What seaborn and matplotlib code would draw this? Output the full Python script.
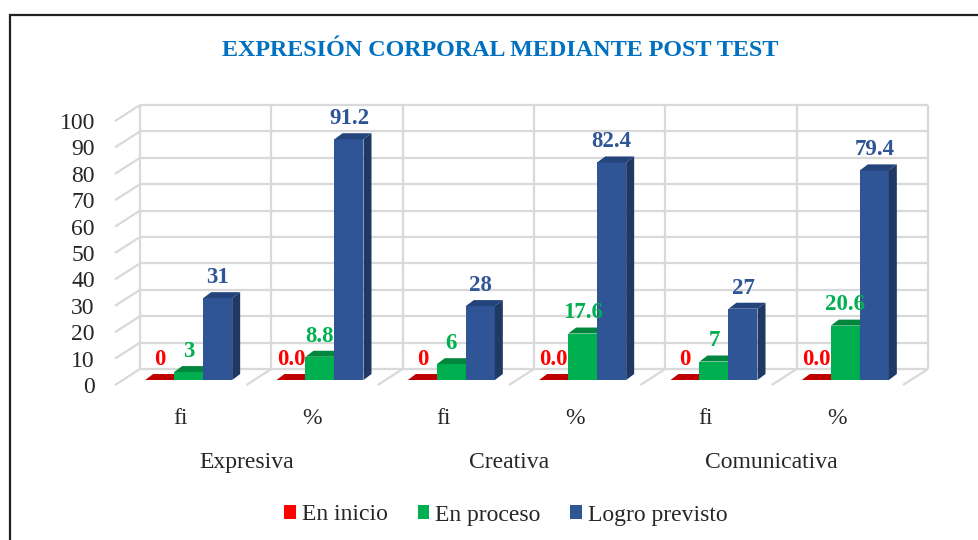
import pandas as pd
import matplotlib
matplotlib.use("Agg")
import matplotlib.pyplot as plt
from matplotlib.patches import Polygon, Patch, Rectangle
import seaborn as sns

# Data
dimensiones = ["Expresiva", "Creativa", "Comunicativa"]
medidas = ["fi", "%"]
series = ["En inicio", "En proceso", "Logro previsto"]
en_inicio = [0, 0.0, 0, 0.0, 0, 0.0]
en_proceso = [3, 8.8, 6, 17.6, 7, 20.6]
logro_previsto = [31, 91.2, 28, 82.4, 27, 79.4]
y_ticks = list(range(0, 101, 10))

claves = [f"{d}|{m}" for d in dimensiones for m in medidas]
rows = []
for s, vals in zip(series, [en_inicio, en_proceso, logro_previsto]):
    for k, v in zip(claves, vals):
        rows.append({"clave": k, "serie": s, "valor": v})
df = pd.DataFrame(rows)

# colours: legend/front, top face, side face, label
colores = {
    "En inicio": ("#FF0000", "#C00000", "#A00000", "#FF0000"),
    "En proceso": ("#00B050", "#00873D", "#007A36", "#00B050"),
    "Logro previsto": ("#2F5597", "#24457C", "#1F3864", "#2F5597"),
}

sns.set_style("white")
plt.rcParams["font.family"] = ["Liberation Serif", "DejaVu Serif"]

W, H = 979, 540
fig = plt.figure(figsize=(W / 100, H / 100), dpi=100)

# pixel geometry of the pseudo 3D box
cat_px = 788 / 6          # pixels per category
val_px = 264 / 100        # pixels per value unit
bar_left, bar_base = 123, 380

# front plane axes (tick labels only)
axf = fig.add_axes([(bar_left - 8) / W, (H - bar_base - 5) / H, 788 / W, 264 / H], zorder=0)
# bar plane axes
ax = fig.add_axes([bar_left / W, (H - bar_base) / H, 788 / W, 264 / H], zorder=1)
ax.patch.set_alpha(0)

def off(px, py):
    return px / cat_px, py / val_px

fdx, fdy = off(-8, -5)     # front plane
bdx, bdy = off(17, 11)     # back wall
ddx, ddy = off(8, 6)       # bar depth

grid_kw = dict(color="#D9D9D9", lw=1.6, zorder=0.5, clip_on=False, solid_capstyle="butt")
x0, x1 = -0.5, len(claves) - 0.5
for y in y_ticks:
    ax.plot([x0 + bdx, x1 + bdx], [y + bdy, y + bdy], **grid_kw)
    ax.plot([x0 + fdx, x0 + bdx], [y + fdy, y + bdy], **grid_kw)
for i in range(len(claves) + 1):
    xb = x0 + i
    ax.plot([xb + bdx, xb + bdx], [bdy, 100 + bdy], **grid_kw)
    if i > 0:
        ax.plot([xb + fdx, xb + bdx], [fdy, bdy], **grid_kw)

sns.barplot(data=df, x="clave", y="valor", hue="serie", order=claves, hue_order=series,
            palette={s: colores[s][0] for s in series}, width=87 / cat_px,
            saturation=1, legend=False, ax=ax)

for k, (s, cont) in enumerate(zip(series, ax.containers)):
    front, top, side, lab = colores[s]
    for j, rect in enumerate(cont):
        x, w, h = rect.get_x(), rect.get_width(), rect.get_height()
        z = 2 + k * 0.3
        rect.set_facecolor(front if h > 0 else top)
        rect.set_edgecolor("none")
        rect.set_zorder(z)
        ax.add_patch(Polygon([(x, h), (x + w, h), (x + w + ddx, h + ddy), (x + ddx, h + ddy)],
                             closed=True, facecolor=top, edgecolor="none", zorder=z + 0.1,
                             clip_on=False))
        ax.add_patch(Polygon([(x + w, 0), (x + w, h), (x + w + ddx, h + ddy), (x + w + ddx, ddy)],
                             closed=True, facecolor=side, edgecolor="none", zorder=z + 0.1,
                             clip_on=False))
        v = df[(df.serie == s) & (df.clave == claves[j])].valor.iloc[0]
        txt = f"{v:.0f}" if claves[j].endswith("fi") else f"{v:.1f}"
        ax.annotate(txt, (x + w / 2, h + ddy), xytext=(0, 3), textcoords="offset points",
                    ha="center", va="bottom", fontsize=16.5, fontweight="bold", color=lab,
                    zorder=5, annotation_clip=False)

for a in (ax, axf):
    a.set_xlim(x0, x1)
    a.set_ylim(0, 100)
    for sp in a.spines.values():
        sp.set_visible(False)

ax.set_xticks([])
ax.set_yticks([])
ax.set_xlabel("")
ax.set_ylabel("")

axf.set_yticks(y_ticks)
axf.set_yticklabels([str(t) for t in y_ticks], fontsize=17)
axf.set_xticks(range(len(claves)))
axf.set_xticklabels([c.split("|")[1] for c in claves], fontsize=17)
axf.tick_params(axis="y", length=0, pad=14.5)
axf.tick_params(axis="x", length=0, pad=16.5)
for i, d in enumerate(dimensiones):
    axf.annotate(d, (2 * i + 0.5, 0), xytext=(0, -56), textcoords="offset points",
                 ha="center", va="center", fontsize=17, annotation_clip=False)

fig.text(500 / W, 1 - 51 / H, "EXPRESIÓN CORPORAL MEDIANTE POST TEST", ha="center",
         va="center", fontsize=17.4, fontweight="bold", color="#0070C0")

handles = [Patch(facecolor=colores[s][0], edgecolor="none", label=s) for s in series]
fig.legend(handles=handles, loc="center", bbox_to_anchor=(506 / W, 1 - 515 / H), ncol=3,
           frameon=False, fontsize=17, handlelength=0.5, handleheight=0.5,
           handletextpad=0.25, columnspacing=1.25)

# outer chart border (runs off right and bottom edges)
fig.add_artist(Rectangle((9.5 / W, -0.1), 1.2, 1 - 15.5 / H + 0.1, transform=fig.transFigure,
                         facecolor="none", edgecolor="#222222", lw=1.6))

fig.savefig("out.png", dpi=100)
